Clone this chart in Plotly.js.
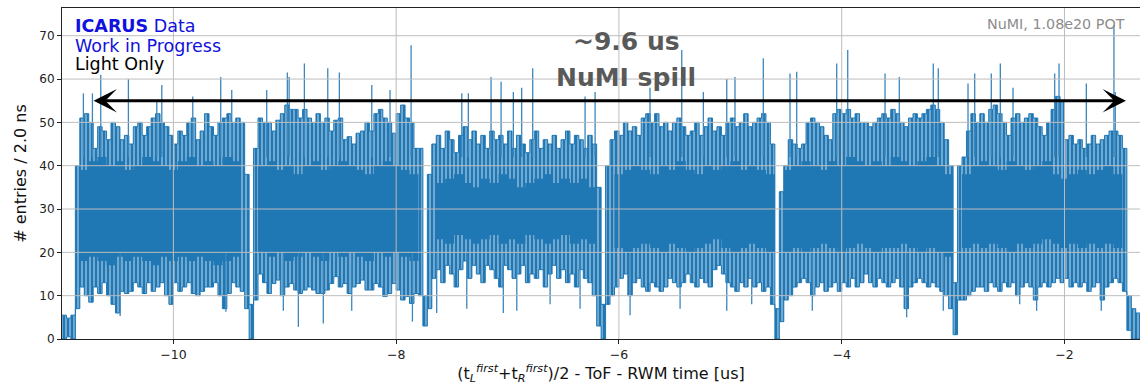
<!DOCTYPE html>
<html><head><meta charset="utf-8">
<script src="https://cdn.plot.ly/plotly-3.0.1.min.js"></script>
<style>html,body{margin:0;padding:0;background:#fff;}#chart{width:1140px;height:385px;}</style>
</head><body><div id="chart"></div>
<script>
// Histogram, summarised per 40 ns slice:
// upper / lower edge of the band swept by the 2 ns bins (entries / 2.0 ns)
const binStartUs = -11.0;
const sliceWidthUs = 0.04;
const upperEnvelope = [
 5.5,4.8,5.5,40,51,52,50,44,49,48,46,50,49,46,47,45,49,50,47,49,51,52,50,49,47,45,48,47,50,51,46,48,52,49,47,50,51,52,50,51,50,
 38,8,44,51,50,50,48,50.5,52,54,53,53,51,53,51,50,52,50,51,48,50.5,51,46,46.7,45,47.5,48,50,48,52,53,51,50,47.5,52,54,51,50,44,44,
 10,
 38,45,47,44,48,46,43,47,49,46,48,45,47,44,48,46,47,45,48,44,47,45,43,46,48,44,46,45,47,44,46,48,45,47,46,44,47,45,35,8,
 40,46,48,47,50,48,49,47,51,52,50,52,49,50,48,50,51,49,47,48,50,47,49,51,48,49,47,50,51,49,50,52,49,50,51,52,50,45,7,34,
 40,46,45,44,45,50,51,50,49,47,46,52,53,52,53,51,52,50,50,49,50,51,52,51,53,52,50,49,51,52,51,52,53,54,53,50,46,40,13,40,
 42,48,52,50,52,50,53,54,52,50,47,51,52,50,51,52,51,49,47,50,53,56,55,46,47,45,46,44,45,47,45,46,47,48,48,47,44,10,7,6
];
const lowerEnvelope = [
 0,0.5,0,7,12,10,8.5,12,10.5,13,10,8,6,11,10.5,11,13,12,10.5,13,11,12,13,10,8,13,11,12,13,10.5,10,11,12,12,13,10,7,10.5,13,12,11,
 7,0,9,15,13,10.5,12.8,13.6,10,12,12.8,11.3,10.5,11.3,12,11.3,10.5,10.5,11.3,12.8,14.4,12,12.8,10.5,12,12.8,13.6,11.3,11.3,12.8,12,9.8,10.5,12.8,11.3,9,9.8,8.2,10.5,10,
 3,
 7,14,16,13,17,15,12,16,18,14,17,15,13,17,16,14,12,17,16,14,15,17,13,15,14,16,12,15,17,14,16,13,15,12,16,14,13,10,3,0,
 8,10,12,14,15,10,13,14,12,11,13,12,11,12,14,13,12,13,15,13,12,14,13,12,16,17,15,13,12,11,13,12,14,12,13,11,12,8,0,4,
 9,10,12,13,14,13,10,12,13,11,12,13,11,13,12,14,12,13,15,13,12,14,13,12,13,14,12,7,12,13,14,13,12,13,12,11,10,7,1,9,
 9,10,11,12,12,11,13,12,11,13,12,13,10,12,13,12,9,12,13,12,13,14,13,14,12,13,12,13,11,12,13,9,12,13,14,13,11,2,0,0
];
// range where every bin is filled (solid core of the band), per 80 ns slice; null = no solid core (gaps between batches)
const coreSliceUs = 0.08;
const coreTop = [
 null,null,
 39,41,42,40,41,39,40,42,41,40,39,41,42,40,41,40,42,41,
 null,null,
 40,41,39,40,38,40,41,39,40,41,40,39,38,40,41,40,39,38,
 null,null,
 36,37,38,36,35,37,36,38,37,35,36,37,38,36,37,36,37,35,
 null,null,
 38,39,40,39,38,40,39,41,39,38,40,39,40,41,39,40,39,38,
 null,
 39,40,41,40,39,41,40,42,41,40,41,40,42,41,40,41,42,40,38,
 null,
 38,40,41,40,39,41,40,39,40,41,38,37,38,39,38,39,40,38,
 null,null
];
const coreBottom = [
 null,null,
 18,19,18,17,19,18,19,18,17,19,18,19,18,19,18,17,18,19,
 null,null,
 20,19,20,18,19,20,19,18,20,19,20,19,18,20,19,20,19,18,
 null,null,
 23,22,24,23,22,23,24,22,23,22,24,23,22,23,24,22,23,22,
 null,null,
 21,20,21,22,21,20,22,21,20,21,22,23,21,20,21,22,21,20,
 null,
 20,21,20,21,22,21,20,21,22,21,20,21,21,22,21,20,21,20,19,
 null,
 21,22,21,22,21,20,22,21,22,23,22,21,22,21,22,21,22,21,
 null,null
];
// single tall bins sticking out above the band
const spikeTimesUs = [-10.808,-10.727,-10.652,-10.404,-10.149,-10.104,-9.826,-9.575,-9.476,
 -9.162,-8.977,-8.961,-8.824,-8.614,-8.510,-8.219,-8.055,-7.866,
 -7.411,-7.352,-7.148,-7.058,-6.948,-6.873,-6.774,-6.304,-6.214,
 -5.721,-5.436,-5.242,-5.032,-4.958,-4.704,
 -4.464,-4.404,-4.045,-3.946,-3.611,-3.483,-3.178,-3.133,
 -2.866,-2.806,-2.657,-2.576,-2.462,-2.088,-2.049,-1.804,-1.556,-1.544];
const spikeHeights = [56.7,56.7,61,60,55,58.6,56,60.5,57.5,
 57.5,61.5,60.5,63.6,62.5,61.5,58.6,57.5,67.8,
 56.7,56.7,60.5,59.4,57,58,62.5,56,57,
 58,66.7,57,60,60.5,64.8,
 61.3,61.7,63.6,66.7,61.3,60.5,63.6,62.5,
 59,61.3,61.3,63.6,58,61.3,63.6,59,72.5,57];
// single low bins dropping below the band
const dipTimesUs = [-10.478,-9.529,-9.013,-8.878,-8.654,-8.399,-7.854,-7.636,-7.366,-7.038,-6.917,-6.618,-6.349,
 -5.900,-5.451,-5.032,-4.808,-4.264,-3.417,-3.088,-2.402,-2.250,-1.670];
const dipDepths = [5.3,6.3,6.5,2.8,3.6,6.5,4,6,7,6,6.5,8,7,5.5,7,6.5,8,6.5,5,6.5,8,6.5,6.5];

const xTickValues = [-10,-8,-6,-4,-2];
const yTickValues = [0,10,20,30,40,50,60,70];

const BLUE = '#1f77b4';

// envelope band (step outline)
const xs = upperEnvelope.map((_, i) => binStartUs + i * sliceWidthUs);
xs.push(binStartUs + upperEnvelope.length * sliceWidthUs);
const up = upperEnvelope.concat([upperEnvelope[upperEnvelope.length - 1]]);
const lo = lowerEnvelope.concat([lowerEnvelope[lowerEnvelope.length - 1]]);

// solid core: slices without a core get zero thickness
const cx = coreTop.map((_, k) => binStartUs + k * coreSliceUs);
cx.push(binStartUs + coreTop.length * coreSliceUs);
let lastB = 20;
const cTop = [], cBot = [];
coreTop.forEach((v, k) => {
  if (v === null) { cTop.push(lastB); cBot.push(lastB); }
  else { cTop.push(v); cBot.push(coreBottom[k]); lastB = coreBottom[k]; }
});
cTop.push(cTop[cTop.length - 1]); cBot.push(cBot[cBot.length - 1]);

const sx = [], sy = [];
spikeTimesUs.forEach((t, i) => { sx.push(t, t, null); sy.push(42, spikeHeights[i], null); });
const dx = [], dy = [];
dipTimesUs.forEach((t, i) => { dx.push(t, t, null); dy.push(20, dipDepths[i], null); });

const traces = [
  {x: xs, y: lo, mode: 'lines', line: {shape: 'hv', color: BLUE, width: 1}, hoverinfo: 'skip'},
  {x: xs, y: up, mode: 'lines', fill: 'tonexty', fillcolor: 'rgba(31,119,180,0.0)',
   fillpattern: {shape: '|', size: 4, solidity: 0.82, fgcolor: BLUE, bgcolor: 'rgba(255,255,255,0)', fillmode: 'replace'},
   line: {shape: 'hv', color: BLUE, width: 1}, hoverinfo: 'skip'},
  {x: cx, y: cBot, mode: 'lines', line: {shape: 'hv', color: BLUE, width: 0}, hoverinfo: 'skip'},
  {x: cx, y: cTop, mode: 'lines', fill: 'tonexty', fillcolor: BLUE, line: {shape: 'hv', color: BLUE, width: 0}, hoverinfo: 'skip'},
  {x: sx, y: sy, mode: 'lines', line: {color: '#3a86bd', width: 1.3}, hoverinfo: 'skip', connectgaps: false},
  {x: dx, y: dy, mode: 'lines', line: {color: '#3a86bd', width: 1.3}, hoverinfo: 'skip', connectgaps: false}
];

const GRID = '#bdbdbd';
const shapes = [];
xTickValues.forEach(v => shapes.push({type: 'line', xref: 'x', yref: 'paper', x0: v, x1: v, y0: 0, y1: 1, layer: 'above', line: {color: GRID, width: 1}}));
yTickValues.slice(1).forEach(v => shapes.push({type: 'line', xref: 'paper', yref: 'y', x0: 0, x1: 1, y0: v, y1: v, layer: 'above', line: {color: GRID, width: 1}}));

const FONT = 'DejaVu Sans, Verdana, sans-serif';
const annotations = [
  {xref: 'x', yref: 'y', axref: 'x', ayref: 'y', x: -1.448, y: 55, ax: -10.73, ay: 55, text: '', showarrow: true,
   arrowside: 'end+start', arrowhead: 3, startarrowhead: 3, arrowsize: 1.3, startarrowsize: 1.3, arrowwidth: 3, arrowcolor: '#000'},
  {xref: 'paper', yref: 'paper', x: 0.0102, y: 0.9456, xanchor: 'left', yanchor: 'middle', showarrow: false,
   text: '<b>ICARUS</b> Data', font: {family: FONT, size: 17.5, color: '#1111dd'}},
  {xref: 'paper', yref: 'paper', x: 0.0102, y: 0.8867, xanchor: 'left', yanchor: 'middle', showarrow: false,
   text: 'Work in Progress', font: {family: FONT, size: 17.5, color: '#1111dd'}},
  {xref: 'paper', yref: 'paper', x: 0.0102, y: 0.8308, xanchor: 'left', yanchor: 'middle', showarrow: false,
   text: 'Light Only', font: {family: FONT, size: 17.5, color: '#000'}},
  {xref: 'paper', yref: 'paper', x: 0.988, y: 0.9502, xanchor: 'right', yanchor: 'middle', showarrow: false,
   text: 'NuMI, 1.08e20 POT', font: {family: FONT, size: 14.3, color: '#8c8c8c'}},
  {xref: 'paper', yref: 'paper', x: 0.5241, y: 0.8973, xanchor: 'center', yanchor: 'middle', showarrow: false,
   text: '<b>~9.6 us</b>', font: {family: FONT, size: 25, color: '#595959'}},
  {xref: 'paper', yref: 'paper', x: 0.5232, y: 0.7915, xanchor: 'center', yanchor: 'middle', showarrow: false,
   text: '<b>NuMI spill</b>', font: {family: FONT, size: 25, color: '#595959'}}
];

const layout = {
  width: 1140, height: 385,
  margin: {l: 62, r: 0, t: 8, b: 46},
  paper_bgcolor: '#fff', plot_bgcolor: '#fff',
  showlegend: false,
  font: {family: FONT, size: 12, color: '#222'},
  xaxis: {range: [-11.0, -1.322], tickvals: xTickValues, ticks: 'outside', ticklen: 4, tickwidth: 1, tickcolor: '#222',
          showline: true, linecolor: '#222', linewidth: 1, mirror: true, showgrid: false, zeroline: false,
          tickfont: {family: FONT, size: 12.5, color: '#222'},
          title: {text: '(t<sub><i>L</i></sub><sup><i>first</i></sup>+t<sub><i>R</i></sub><sup><i>first</i></sup>)/2 - ToF - RWM time [us]',
                  font: {family: FONT, size: 16, color: '#111'}, standoff: 4}},
  yaxis: {range: [0, 76.4], tickvals: yTickValues, ticks: 'outside', ticklen: 4, tickwidth: 1, tickcolor: '#222',
          showline: true, linecolor: '#222', linewidth: 1, showgrid: false, zeroline: false,
          tickfont: {family: FONT, size: 12, color: '#222'},
          title: {text: '# entries / 2.0 ns', font: {family: FONT, size: 16, color: '#111'}, standoff: 8}},
  shapes: shapes,
  annotations: annotations
};

Plotly.newPlot('chart', traces, layout, {staticPlot: true, displayModeBar: false});
</script>
</body></html>
